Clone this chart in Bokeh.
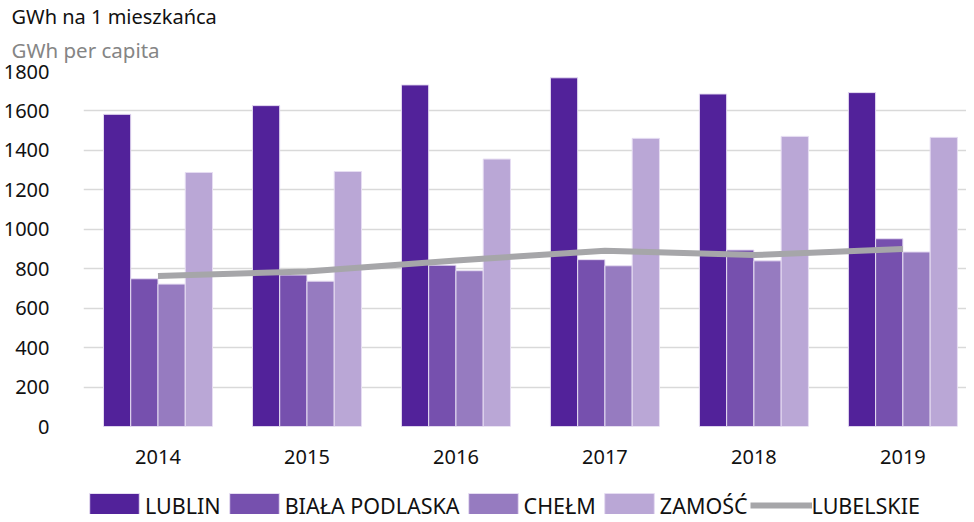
from bokeh.plotting import figure
from bokeh.models import Range1d, Legend, LegendItem, Title, FixedTicker, ColumnDataSource
from bokeh.layouts import column
from bokeh.transform import dodge
from bokeh.embed import file_html
from bokeh.resources import INLINE

years = ["2014", "2015", "2016", "2017", "2018", "2019"]
lublin = [1583, 1627, 1732, 1768, 1686, 1693]
biala = [749, 768, 818, 846, 895, 952]
chelm = [722, 737, 790, 815, 840, 885]
zamosc = [1288, 1293, 1356, 1461, 1471, 1466]
lubelskie = [763, 786, 842, 891, 869, 900]

series_names = ["LUBLIN", "BIAŁA PODLASKA", "CHEŁM", "ZAMOŚĆ"]
line_name = "LUBELSKIE"
title_text = "GWh na 1 mieszkańca"
subtitle_text = "GWh per capita"
colors = ["#52229A", "#7650AE", "#967BC0", "#BAA7D6"]
line_color = "#A6A6A9"

FONT = "Noto Sans"
W = 966
idx = list(range(len(years)))
keys = ["lublin", "biala", "chelm", "zamosc"]
src = ColumnDataSource(dict(x=idx, lublin=lublin, biala=biala, chelm=chelm,
                            zamosc=zamosc, lubelskie=lubelskie))
w = 0.183
offsets = [-1.5 * w, -0.5 * w, 0.5 * w, 1.5 * w]


def draw(fig, visible=True):
    rs = []
    for k, off, c in zip(keys, offsets, colors):
        rs.append(fig.vbar(x=dodge("x", off), top=k, width=w, bottom=0, source=src,
                           fill_color=c, line_color="#E6DDF2", line_width=1,
                           visible=visible))
    rs.append(fig.line(x="x", y="lubelskie", source=src, line_color=line_color,
                       line_width=6, visible=visible))
    return rs


# main chart
p = figure(width=W, height=478, output_backend="svg", toolbar_location=None,
           x_range=Range1d(-0.5, 5.427), y_range=Range1d(0, 1800),
           min_border_left=74, min_border_right=0, min_border_top=0, min_border_bottom=52,
           outline_line_color=None)
p.title.text = title_text
p.title.text_font = FONT
p.title.text_font_size = "20px"
p.title.text_font_style = "normal"
p.title.text_color = "#111111"
p.title.offset = -72
p.title.standoff = 0
p.add_layout(Title(text=subtitle_text, text_font=FONT, text_font_size="20.5px",
                   text_font_style="normal", text_color="#858585", offset=-72,
                   standoff=12, vertical_align="top"), "above")

draw(p)

p.xaxis.ticker = FixedTicker(ticks=idx)
p.xaxis.major_label_overrides = {i: y for i, y in zip(idx, years)}
p.yaxis.ticker = FixedTicker(ticks=list(range(0, 1801, 200)))
for ax in (p.xaxis, p.yaxis):
    ax.axis_line_color = None
    ax.major_tick_line_color = None
    ax.minor_tick_line_color = None
    ax.major_label_text_font = FONT
    ax.major_label_text_font_size = "20px"
    ax.major_label_text_color = "#111111"
p.yaxis.major_label_standoff = 28
p.xaxis.major_label_standoff = 17
p.xgrid.grid_line_color = None
p.ygrid.grid_line_color = "#D9D9D9"
p.ygrid.grid_line_width = 1.5

# legend strip (hidden copies of the series supply the legend glyphs)
LH = 36
leg = figure(width=W, height=LH, output_backend="svg", toolbar_location=None,
             x_axis_type=None, y_axis_type=None,
             x_range=Range1d(100, 101), y_range=Range1d(100, 101),
             min_border_left=74, min_border_right=0, min_border_top=0, min_border_bottom=0,
             outline_line_color=None)
leg.xgrid.visible = False
leg.ygrid.visible = False
lrs = draw(leg, visible=False)
items = [LegendItem(label=n, renderers=[r]) for n, r in zip(series_names + [line_name], lrs)]
legend = Legend(items=items, orientation="horizontal", location=(0, -6),
                glyph_width=62, glyph_height=30, label_text_font=FONT,
                label_text_font_size="21.5px", label_text_color="#111111",
                spacing=2, label_standoff=0, border_line_color=None,
                background_fill_alpha=0, padding=0, margin=0)
leg.add_layout(legend)

layout = column(p, leg, spacing=0)
open("out.html", "w").write(file_html(layout, INLINE))
